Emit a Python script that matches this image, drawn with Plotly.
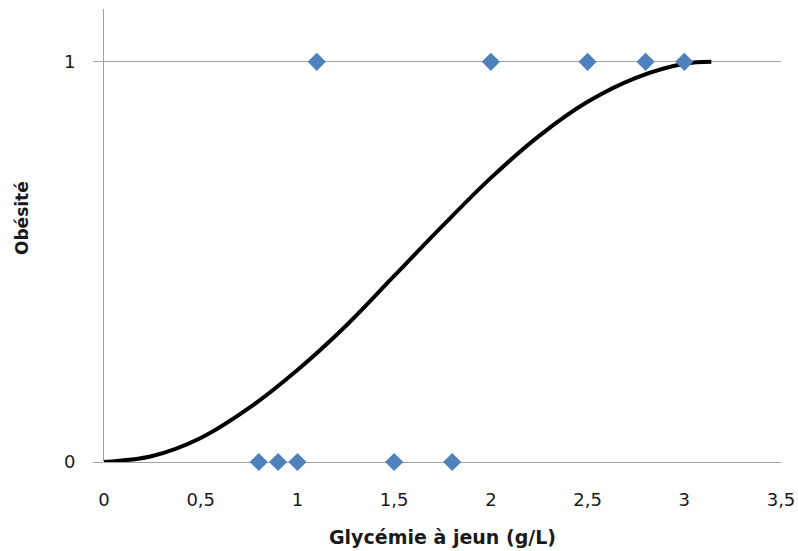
import plotly.graph_objects as go

# Observations
obs_x = [1.1, 2.0, 2.5, 2.8, 3.0, 0.8, 0.9, 1.0, 1.5, 1.8]
obs_y = [1, 1, 1, 1, 1, 0, 0, 0, 0, 0]

# Fitted curve
curve_x = [0, 0.25, 0.5, 0.75, 1.0, 1.25, 1.5, 1.75, 2.0, 2.25, 2.5, 2.75, 3.0, 3.14]
curve_y = [0, 0.015, 0.06, 0.135, 0.23, 0.34, 0.465, 0.59, 0.71, 0.815, 0.90, 0.96, 0.995, 1.0]

x_ticks = [0, 0.5, 1, 1.5, 2, 2.5, 3, 3.5]
x_labels = ["0", "0,5", "1", "1,5", "2", "2,5", "3", "3,5"]
y_ticks = [0, 1]
y_labels = ["0", "1"]

x_title = "Glycémie à jeun (g/L)"
y_title = "Obésité"

font = "DejaVu Sans, Open Sans, sans-serif"
text_color = "#1a1a1a"

fig = go.Figure()
fig.add_trace(go.Scatter(x=curve_x, y=curve_y, mode="lines",
                         line=dict(color="black", width=4, shape="spline"),
                         showlegend=False, hoverinfo="skip"))
fig.add_trace(go.Scatter(x=obs_x, y=obs_y, mode="markers",
                         marker=dict(symbol="diamond", size=14, color="#4F81BD"),
                         cliponaxis=False, showlegend=False))

fig.update_layout(
    width=798, height=551,
    margin=dict(l=104, r=17, t=9, b=89),
    paper_bgcolor="white", plot_bgcolor="white",
    font=dict(family=font, size=18, color=text_color),
    xaxis=dict(range=[0, 3.5], tickvals=x_ticks, ticktext=x_labels,
               showgrid=False, zeroline=False, showline=False, automargin=False,
               ticks="outside", ticklen=21, tickcolor="rgba(0,0,0,0)"),
    yaxis=dict(range=[0, 1.132], tickvals=y_ticks, ticktext=y_labels,
               showgrid=True, gridcolor="#A0A0A0", gridwidth=1,
               zeroline=True, zerolinecolor="#A0A0A0", zerolinewidth=1,
               showline=True, linecolor="#A0A0A0", linewidth=1, automargin=False,
               ticks="outside", ticklen=10, tickcolor="#A0A0A0",
               ticklabelstandoff=14),
    annotations=[
        dict(text="<b>%s</b>" % x_title, xref="paper", yref="paper",
             x=0.5, y=0, xanchor="center", yanchor="middle", yshift=-75,
             showarrow=False, font=dict(size=19)),
        dict(text="<b>%s</b>" % y_title, xref="paper", yref="paper",
             x=0, y=0.5386, xanchor="center", yanchor="middle", xshift=-82,
             textangle=-90, showarrow=False, font=dict(size=17)),
    ],
)

fig.write_html(
    "out.html",
    config={"displayModeBar": False},
    post_script="document.body.style.margin='0';document.body.style.overflow='hidden';",
)
